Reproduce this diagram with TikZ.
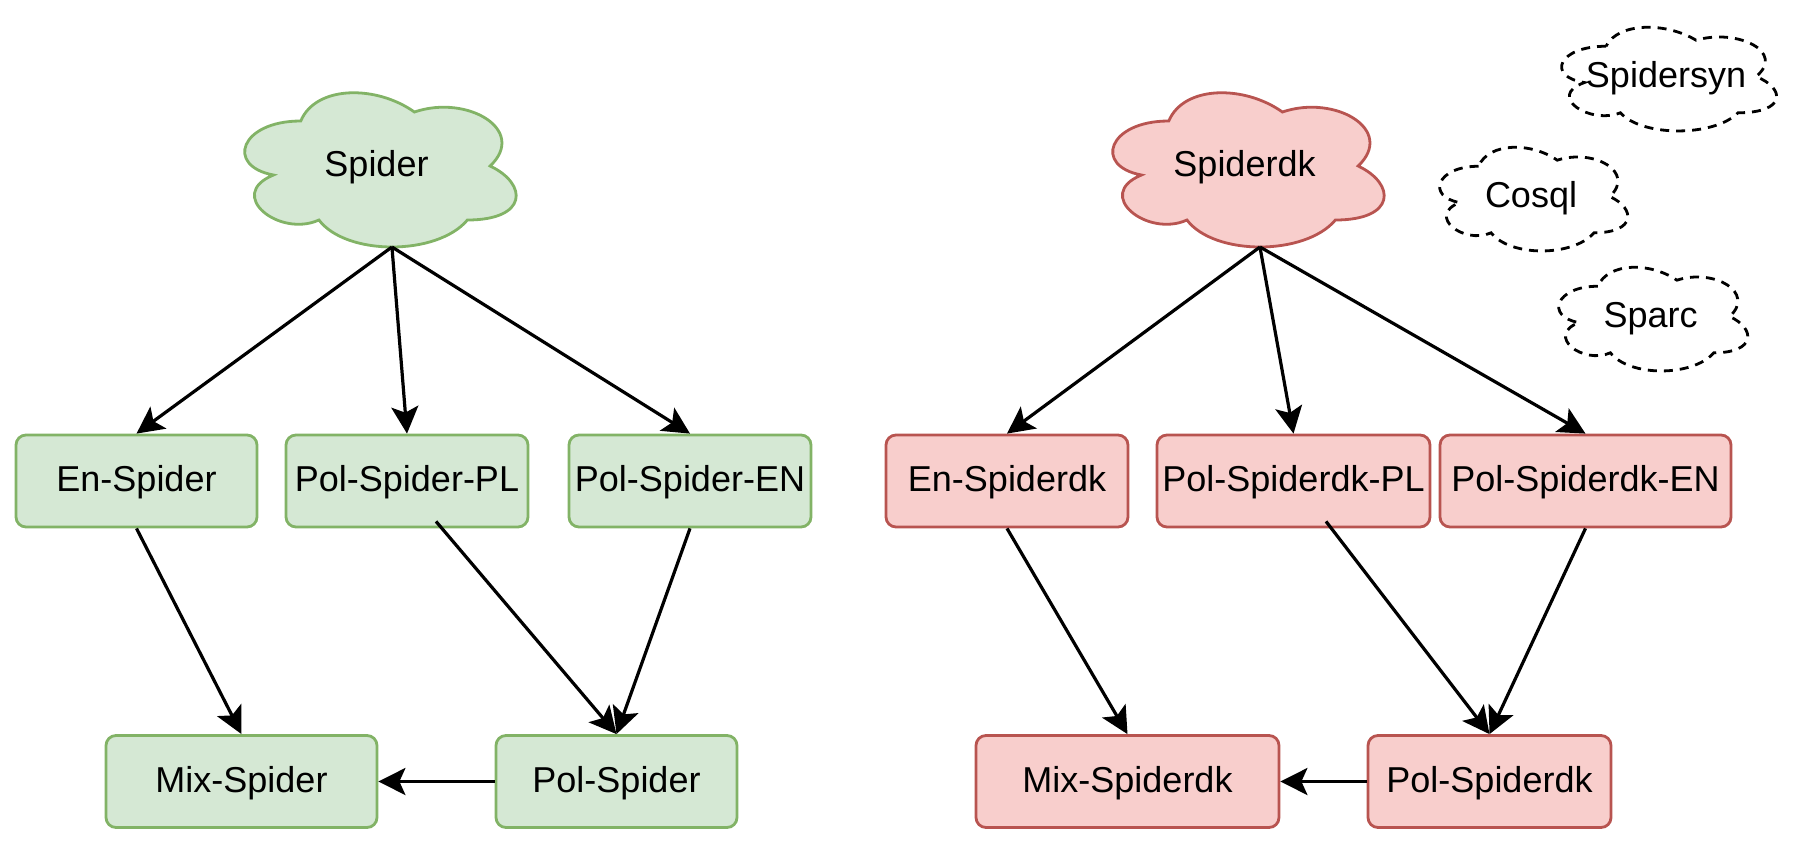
\documentclass[tikz,border=0pt]{standalone}
\usepackage{fontspec}
\setmainfont{Liberation Sans}
\usetikzlibrary{arrows.meta,calc}
\definecolor{gfill}{HTML}{D5E8D4}
\definecolor{gline}{HTML}{82B366}
\definecolor{rfill}{HTML}{F8CECC}
\definecolor{rline}{HTML}{B85450}
\newcommand{\mxcloud}[7]{%
  \begin{scope}[shift={(#2,#3)}, x=#4pt, y=-#5pt]
    \draw[#6] (0.25,0.25) .. controls (0.05,0.25) and (0,0.5) .. (0.16,0.55)
      .. controls (0,0.66) and (0.18,0.9) .. (0.31,0.8)
      .. controls (0.4,1) and (0.7,1) .. (0.8,0.8)
      .. controls (1,0.8) and (1,0.6) .. (0.875,0.5)
      .. controls (1,0.3) and (0.8,0.1) .. (0.625,0.2)
      .. controls (0.5,0.05) and (0.3,0.05) .. (0.25,0.25) -- cycle;
    \node[lbl] (#1) at (0.5,0.5) {#7};
    \coordinate (#1b) at (0.551,0.95);
  \end{scope}}
\begin{document}
\begin{tikzpicture}[x=1pt,y=-1pt,
  lbl/.style={font=\fontsize{36}{43}\selectfont, inner sep=0pt, text height=26pt, text depth=5pt},
  gbox/.style={lbl, draw=gline, fill=gfill, line width=2.8pt, rounded corners=10pt, minimum height=92pt},
  rbox/.style={lbl, draw=rline, fill=rfill, line width=2.8pt, rounded corners=10pt, minimum height=92pt},
  gcloud/.style={draw=gline, fill=gfill, line width=2.8pt},
  rcloud/.style={draw=rline, fill=rfill, line width=2.8pt},
  dcloud/.style={draw=black, line width=2.8pt, dash pattern=on 9pt off 7pt},
  conn/.style={line width=3.2pt, -{Stealth[length=27pt,width=27pt,inset=6pt]}}]
\useasboundingbox (0,0) rectangle (1803,843);

% clouds
\mxcloud{spider}{225}{76}{303}{180}{gcloud}{Spider}
\mxcloud{spiderdk}{1093}{76}{303}{180}{rcloud}{Spiderdk}
\mxcloud{syn}{1546}{16}{240}{121}{dcloud}{Spidersyn}
\mxcloud{cosql}{1426}{136}{210}{121}{dcloud}{Cosql}
\mxcloud{sparc}{1545}{256}{211}{121}{dcloud}{Sparc}

% green boxes
\node[gbox, minimum width=241pt] (ens) at (136.5,481) {En-Spider};
\node[gbox, minimum width=242pt] (pls) at (407,481) {Pol-Spider-PL};
\node[gbox, minimum width=242pt] (pes) at (690,481) {Pol-Spider-EN};
\node[gbox, minimum width=271pt] (mixs) at (241.5,781.5) {Mix-Spider};
\node[gbox, minimum width=241pt] (pols) at (616.5,781.5) {Pol-Spider};

% red boxes
\node[rbox, minimum width=242pt] (endk) at (1007,481) {En-Spiderdk};
\node[rbox, minimum width=273pt] (pldk) at (1293.5,481) {Pol-Spiderdk-PL};
\node[rbox, minimum width=291pt] (pedk) at (1585.5,481) {Pol-Spiderdk-EN};
\node[rbox, minimum width=303pt] (mixdk) at (1127.5,781.5) {Mix-Spiderdk};
\node[rbox, minimum width=243pt] (poldk) at (1489.5,781.5) {Pol-Spiderdk};

\coordinate (plsout) at ($(pls.south)+(29,-7)$);
\coordinate (pldkout) at ($(pldk.south)+(32.5,-7)$);

% green connectors
\draw[conn] (spiderb) -- (ens.north);
\draw[conn] (spiderb) -- (pls.north);
\draw[conn] (spiderb) -- (pes.north);
\draw[conn] (ens.south) -- (mixs.north);
\draw[conn] (plsout) -- (pols.north);
\draw[conn] (pes.south) -- (pols.north);
\draw[conn] (pols.west) -- (mixs.east);

% red connectors
\draw[conn] (spiderdkb) -- (endk.north);
\draw[conn] (spiderdkb) -- (pldk.north);
\draw[conn] (spiderdkb) -- (pedk.north);
\draw[conn] (endk.south) -- (mixdk.north);
\draw[conn] (pldkout) -- (poldk.north);
\draw[conn] (pedk.south) -- (poldk.north);
\draw[conn] (poldk.west) -- (mixdk.east);
\end{tikzpicture}
\end{document}
